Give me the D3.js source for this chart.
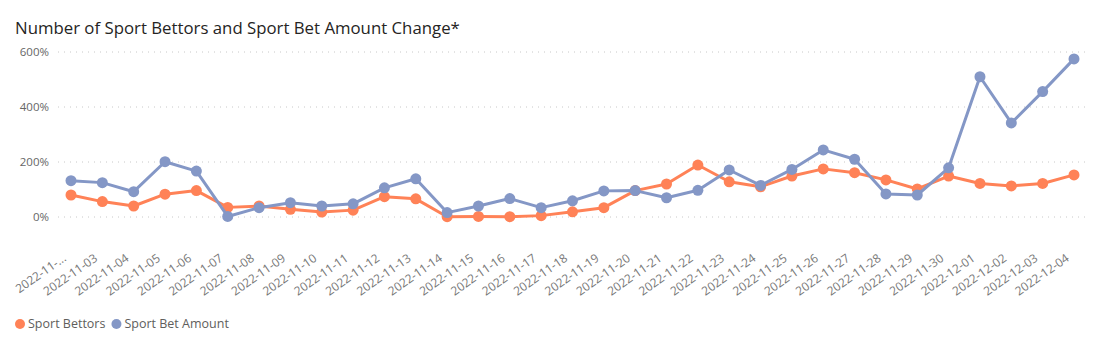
<!DOCTYPE html>
<html>
<head>
<meta charset="utf-8">
<script src="https://cdn.jsdelivr.net/npm/d3@7"></script>
<style>
  body { margin: 0; background: #fff; }
  svg { display: block; font-family: "Open Sans", "Noto Sans", sans-serif; }
</style>
</head>
<body>
<svg width="1102" height="361"></svg>
<script>
var svg = d3.select("svg"),
  width = +svg.attr("width"),
  height = +svg.attr("height");

// Data
var dates = ["2022-11-02","2022-11-03","2022-11-04","2022-11-05","2022-11-06","2022-11-07","2022-11-08",
  "2022-11-09","2022-11-10","2022-11-11","2022-11-12","2022-11-13","2022-11-14","2022-11-15","2022-11-16",
  "2022-11-17","2022-11-18","2022-11-19","2022-11-20","2022-11-21","2022-11-22","2022-11-23","2022-11-24",
  "2022-11-25","2022-11-26","2022-11-27","2022-11-28","2022-11-29","2022-11-30","2022-12-01","2022-12-02",
  "2022-12-03","2022-12-04"];
var bettors = [80,56,40,83,96,35,40,28,18,25,74,66,1,2,1,5,19,34,96,120,189,128,110,149,175,161,135,102,149,122,113,122,153];
var betAmount = [132,125,92,201,167,2,34,52,40,48,106,139,16,40,67,34,59,95,96,70,97,171,115,173,244,210,84,80,179,510,342,456,575];
var yTicks = [0, 200, 400, 600];
var seriesNames = ["Sport Bettors", "Sport Bet Amount"];
var colors = ["#FF8257", "#8497C6"];

// Axis labels (Power BI truncates the first one)
function tickLabel(d, i) { return i === 0 ? "2022-11-..." : d; }

var margin = {left: 58, right: 17};

var x = d3.scalePoint()
  .domain(dates)
  .range([71, 1074]);

var y = d3.scaleLinear()
  .domain([0, 600])
  .range([217, 52]);

// Title
svg.append("text")
  .attr("x", 15)
  .attr("y", 34)
  .attr("font-size", 16.8)
  .attr("fill", "#252423")
  .text("Number of Sport Bettors and Sport Bet Amount Change*");

// Gridlines
svg.append("g")
  .selectAll("line")
  .data(yTicks)
  .enter()
  .append("line")
    .attr("x1", margin.left)
    .attr("x2", width - margin.right)
    .attr("y1", function(d) { return y(d); })
    .attr("y2", function(d) { return y(d); })
    .attr("stroke", "#c8c8c8")
    .attr("stroke-width", 1)
    .attr("stroke-dasharray", "1,5");

// Y axis labels
svg.append("g")
  .selectAll("text")
  .data(yTicks)
  .enter()
  .append("text")
    .attr("x", 49)
    .attr("y", function(d) { return y(d); })
    .attr("dy", "0.35em")
    .attr("text-anchor", "end")
    .attr("font-size", 11.5)
    .attr("fill", "#666")
    .text(function(d) { return d + "%"; });

// X axis labels
svg.append("g")
  .selectAll("text")
  .data(dates)
  .enter()
  .append("text")
    .attr("transform", function(d) { return "translate(" + (x(d) - 4) + ",260) rotate(-35)"; })
    .attr("text-anchor", "end")
    .attr("font-size", 12)
    .attr("fill", "#777")
    .text(tickLabel);

// Lines and markers
var series = [bettors, betAmount];
var line = d3.line()
  .x(function(d, i) { return x(dates[i]); })
  .y(function(d) { return y(d); });

series.forEach(function(vals, s) {
  var g = svg.append("g");
  g.append("path")
    .datum(vals)
    .attr("d", line)
    .attr("fill", "none")
    .attr("stroke", colors[s])
    .attr("stroke-width", 3)
    .attr("stroke-linejoin", "round");
  g.selectAll("circle")
    .data(vals)
    .enter()
    .append("circle")
      .attr("cx", function(d, i) { return x(dates[i]); })
      .attr("cy", function(d) { return y(d); })
      .attr("r", 5.5)
      .attr("fill", colors[s]);
});

// Legend
var legend = svg.append("g");
var lx = 20;
seriesNames.forEach(function(name, i) {
  legend.append("circle")
    .attr("cx", lx)
    .attr("cy", 324)
    .attr("r", 5)
    .attr("fill", colors[i]);
  var t = legend.append("text")
    .attr("x", lx + 8)
    .attr("y", 324)
    .attr("dy", "0.35em")
    .attr("font-size", 12.5)
    .attr("fill", "#605E5C")
    .text(name);
  lx += 8 + t.node().getComputedTextLength() + 11;
});
</script>
</body>
</html>
